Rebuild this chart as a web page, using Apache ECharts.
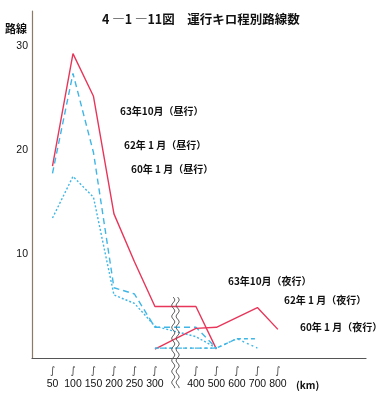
<!DOCTYPE html>
<html><head><meta charset="utf-8">
<script src="https://cdn.jsdelivr.net/npm/echarts@6/dist/echarts.min.js"></script>
<style>html,body{margin:0;padding:0;background:#fff}#c{width:388px;height:405px}</style>
</head><body><div id="c"></div>
<script>
const titleText = '4 ―1 ―11図　運行キロ程別路線数';
const yName = '路線';
const unitText = '(km)';
const categories = ['50','100','150','200','250','300','','400','500','600','700','800'];
const yTicks = [10, 20, 30];
// 昼行
const day63 = [18.5, 29.3, 25.2, 13.9, 9.3, 5.0, null, 5.0, 0.9, null, null, null];
const day62 = [17.8, 27.4, 19.8, 6.8, 6.2, 3.0, null, 3.0, 1.0, null, null, null];
const day60 = [13.5, 17.5, 15.5, 6.1, 5.3, 3.1, null, 2.1, 1.0, null, null, null];
// 夜行
const night63 = [null, null, null, null, null, 0.9, null, 2.9, 3.0, null, 4.9, 2.8];
const night62 = [null, null, null, null, null, 1.0, null, 1.0, 1.0, 1.9, 1.9, null];
const night60 = [null, null, null, null, null, 1.0, null, 1.0, 1.0, 1.9, 1.0, null];
const labels = [
  {text:'63年10月（昼行）', x:120, y:113},
  {text:'62年 1 月（昼行）', x:124, y:147},
  {text:'60年 1 月（昼行）', x:131, y:171},
  {text:'63年10月（夜行）', x:228, y:283},
  {text:'62年 1 月（夜行）', x:284, y:302},
  {text:'60年 1 月（夜行）', x:300, y:329}
];

const RED = '#e8365a', BLUE = '#3fb6e6';
const toData = arr => arr.map((v,i)=> v==null?null:[i+1, v]).filter(Boolean);
const mk = (name, arr, color, type) => ({
  name, type:'line', data: toData(arr), symbol:'none', connectNulls:true,
  lineStyle:{color, width:1.4, type}, z:3, silent:true
});

const chart = echarts.init(document.getElementById('c'), null, {renderer:'canvas'});
const jp = '"Noto Sans CJK JP", "Noto Sans", sans-serif';
const num = '"Liberation Sans", sans-serif';
chart.setOption({
  animation:false,
  title:{text:titleText, left:97, top:8, textStyle:{fontFamily:jp, fontSize:12.5, fontWeight:'bold', color:'#111'}},
  grid:{left:32, right:22, top:11, bottom:46.5, containLabel:false},
  xAxis:{type:'value', min:0, max:16.3, interval:1,
    axisLine:{show:true, lineStyle:{color:'#555', width:1.2}}, axisTick:{show:false}, splitLine:{show:false},
    axisLabel:{margin:7, showMaxLabel:false, showMinLabel:false,
      formatter:v=>{const i=v-1; return (Number.isInteger(v) && i>=0 && i<categories.length && categories[i]) ? '{s|∫}\n{v|'+categories[i]+'}' : '';},
      rich:{s:{fontSize:10, lineHeight:12, color:'#444', fontFamily:'"DejaVu Sans"'}, v:{fontSize:10.5, lineHeight:14, color:'#111', fontFamily:num}}}
  },
  yAxis:{type:'value', min:0, max:33.4, interval:10,
    axisLine:{show:true, lineStyle:{color:'#8a7a68', width:1.2}}, axisTick:{show:false}, splitLine:{show:false},
    axisLabel:{margin:4, showMaxLabel:false, fontSize:10.5, color:'#111', fontFamily:num,
      formatter:v=> yTicks.includes(v) ? String(v) : ''}
  },
  series:[
    mk('63年10月（昼行）', day63, RED, 'solid'),
    mk('62年1月（昼行）', day62, BLUE, [6,4]),
    mk('60年1月（昼行）', day60, BLUE, [2,2]),
    mk('63年10月（夜行）', night63, RED, 'solid'),
    mk('62年1月（夜行）', night62, BLUE, [4,3]),
    mk('60年1月（夜行）', night60, BLUE, [2,3])
  ]
});

// break mark at gap category, texts
const gapIdx = categories.indexOf('') + 1;
const gx = chart.convertToPixel({xAxisIndex:0}, gapIdx);
const yTop = chart.convertToPixel({yAxisIndex:0}, 5.9);
const yBot = 389;
function wave(x0){
  const pts=[]; for(let y=yTop; y<=yBot; y+=1){ pts.push([x0 + 1.5*Math.sin((y-yTop)/11*2*Math.PI), y]); } return pts;
}
const graphics = [
  {type:'text', left:5, top:23, style:{text:yName, fontFamily:jp, fontSize:11, fontWeight:'bold', fill:'#111'}},
  {type:'text', left:296, top:380, style:{text:unitText, fontFamily:jp, fontSize:10, fontWeight:'bold', fill:'#111'}},
  {type:'polyline', shape:{points:wave(gx-2.2)}, style:{stroke:'#555', lineWidth:1, fill:null}, z:10},
  {type:'polyline', shape:{points:wave(gx+2.2)}, style:{stroke:'#555', lineWidth:1, fill:null}, z:10}
];
labels.forEach(l=>graphics.push({type:'text', left:l.x, top:l.y-7, style:{text:l.text, fontFamily:jp, fontSize:10, fontWeight:'bold', fill:'#111'}}));
chart.setOption({graphic:graphics});
</script>
</body></html>
